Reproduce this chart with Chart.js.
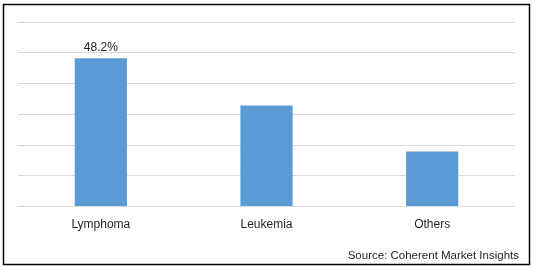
<!DOCTYPE html>
<html>
<head>
<meta charset="utf-8">
<script src="https://cdn.jsdelivr.net/npm/chart.js@4/dist/chart.umd.min.js"></script>
<style>
  html, body { margin: 0; padding: 0; background: #fff; }
  #wrap { width: 533px; height: 270px; position: relative; }
</style>
</head>
<body>
<div id="wrap"><canvas id="grafico" width="533" height="270"></canvas></div>
<script>
// --- dados ---
const categorias = ["Lymphoma", "Leukemia", "Others"];
const valores = [48.2, 32.9, 17.9];
const rotulos = ["48.2%", "", ""];
const fonte = "Source: Coherent Market Insights";

const corBarra = "#5b9bd5";
const corGrade = "#d9d9d9";
const corTexto = "#262626";
const familia = "'Liberation Sans', Arial, sans-serif";

// desenha moldura, rótulo de valor e texto da fonte
const extras = {
  id: "extras",
  afterDatasetsDraw(chart) {
    const ctx = chart.ctx;
    const meta = chart.getDatasetMeta(0);
    ctx.save();
    ctx.fillStyle = corTexto;
    ctx.font = "12px " + familia;
    ctx.textAlign = "center";
    ctx.textBaseline = "bottom";
    meta.data.forEach((bar, i) => {
      if (rotulos[i]) ctx.fillText(rotulos[i], bar.x, bar.y - 5);
    });

    ctx.textAlign = "right";
    ctx.textBaseline = "middle";
    ctx.font = "11.5px " + familia;
    ctx.fillText(fonte, 519, 256);

    ctx.strokeStyle = "#000";
    ctx.lineWidth = 1.5;
    ctx.strokeRect(3.5, 4.5, 526, 260);
    ctx.restore();
  }
};

new Chart(document.getElementById("grafico"), {
  type: "bar",
  data: {
    labels: categorias,
    datasets: [{
      data: valores,
      backgroundColor: corBarra,
      borderWidth: 0,
      barPercentage: 0.315,
      categoryPercentage: 1
    }]
  },
  options: {
    responsive: false,
    animation: false,
    events: [],
    layout: { padding: { top: 22, left: 18, right: 18, bottom: 27 } },
    plugins: {
      legend: { display: false },
      tooltip: { enabled: false }
    },
    scales: {
      x: {
        grid: { display: false, drawTicks: false },
        border: { display: false },
        ticks: {
          color: corTexto,
          padding: 11,
          font: { family: familia, size: 12 }
        }
      },
      y: {
        min: 0,
        max: 60,
        ticks: { display: false, stepSize: 10 },
        grid: { color: corGrade, lineWidth: 1, drawTicks: false },
        border: { display: false }
      }
    }
  },
  plugins: [extras]
});
</script>
</body>
</html>
